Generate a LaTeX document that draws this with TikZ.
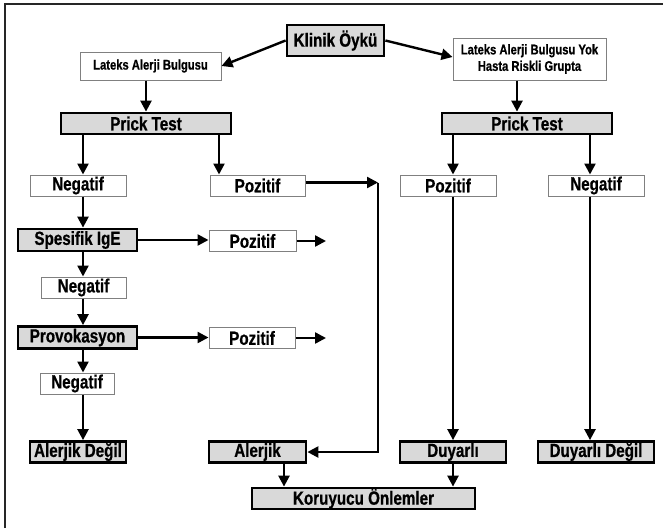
\documentclass[tikz,border=0pt]{standalone}
\usepackage{fontspec}
\setmainfont{Liberation Sans}[FakeStretch=0.8, BoldFeatures={FakeBold=0.7}]
\usetikzlibrary{arrows.meta}
\definecolor{boxgrey}{RGB}{217,217,217}
\definecolor{thingrey}{RGB}{128,128,128}

\begin{document}
\begin{tikzpicture}[x=1pt,y=-1pt,
  greybox/.style={draw, line width=2.8pt, fill=boxgrey, inner sep=0pt,
    font=\bfseries\fontsize{19}{21}\selectfont},
  whitebox/.style={draw=thingrey, line width=1pt, fill=white, inner sep=0pt,
    font=\bfseries\fontsize{19}{21}\selectfont},
  smallbox/.style={whitebox, align=center,
    font=\bfseries\fontsize{14}{16.5}\selectfont},
  arr/.style={line width=2.4pt, -{Triangle[length=11pt,width=11pt]}}]
\useasboundingbox (0,0) rectangle (663,528);
\draw[line width=2pt, black!85]
  (5,528) -- (5,4) -- (663,4);

\node[greybox, minimum width=97pt, minimum height=31pt] (klinik) at (335.5,40.5) {Klinik Öykü};
\node[smallbox, minimum width=141pt, minimum height=28pt] (lateks) at (150.5,66) {Lateks Alerji Bulgusu};
\node[smallbox, minimum width=153pt, minimum height=42pt] (riskli) at (529.5,59) {Lateks Alerji Bulgusu Yok\\Hasta Riskli Grupta};
\node[greybox, minimum width=170pt, minimum height=21pt] (prickL) at (146,123.5) {Prick Test};
\node[greybox, minimum width=170pt, minimum height=21pt] (prickR) at (527,123.5) {Prick Test};
\node[whitebox, minimum width=96pt, minimum height=21pt] (negatifA) at (78,185.5) {Negatif};
\node[whitebox, minimum width=95pt, minimum height=21pt] (pozitifA) at (257.5,185.5) {Pozitif};
\node[whitebox, minimum width=96pt, minimum height=21pt] (pozitifB) at (448,185.5) {Pozitif};
\node[whitebox, minimum width=96pt, minimum height=21pt] (negatifB) at (596,185.5) {Negatif};
\node[greybox, minimum width=119pt, minimum height=22pt] (spesifik) at (77.5,240) {Spesifik IgE};
\node[whitebox, minimum width=87pt, minimum height=21pt] (pozitifC) at (252.5,241) {Pozitif};
\node[whitebox, minimum width=85pt, minimum height=21pt] (negatifC) at (83.5,287.5) {Negatif};
\node[greybox, minimum width=119pt, minimum height=22pt] (provokasyon) at (77.5,337.5) {Provokasyon};
\node[whitebox, minimum width=86pt, minimum height=21pt] (pozitifD) at (252,338) {Pozitif};
\node[whitebox, minimum width=74pt, minimum height=21pt] (negatifD) at (77,383.5) {Negatif};
\node[greybox, minimum width=96pt, minimum height=21pt] (alerjikDegil) at (78,452) {Alerjik Değil};
\node[greybox, minimum width=97pt, minimum height=21pt] (alerjik) at (257.5,452) {Alerjik};
\node[greybox, minimum width=106pt, minimum height=21pt] (duyarli) at (453,452) {Duyarlı};
\node[greybox, minimum width=116pt, minimum height=21pt] (duyarliDegil) at (596,452) {Duyarlı Değil};
\node[greybox, minimum width=223pt, minimum height=21pt] (koruyucu) at (363.5,498.5) {Koruyucu Önlemler};

\coordinate (colA) at (83,0);
\coordinate (colB) at (219,0);
\coordinate (colD) at (453,0);
\coordinate (colE) at (590,0);
\coordinate (colF) at (284,0);
\coordinate (colG) at (517,0);
\coordinate (bus) at (378,182.5);
\coordinate (endC) at (326,241);
\coordinate (endD) at (326,338);

\draw[arr] (klinik.west) -- (lateks.east);
\draw[arr] (klinik.east) -- ([yshift=2pt]riskli.west);
\draw[arr] (lateks.south -| prickL.north) -- (prickL.north);
\draw[arr] (riskli.south -| colG) -- (prickR.north -| colG);
\draw[arr] (prickL.south -| colA) -- (negatifA.north -| colA);
\draw[arr] (prickL.south -| colB) -- (pozitifA.north -| colB);
\draw[arr] (prickR.south -| colD) -- (pozitifB.north -| colD);
\draw[arr] (prickR.south -| colE) -- (negatifB.north -| colE);
\draw[arr] (negatifA.south -| colA) -- (spesifik.north -| colA);
\draw[arr] (spesifik.east) -- (spesifik.east -| pozitifC.west);
\draw[arr] (pozitifC.east) -- (endC);
\draw[arr] (spesifik.south -| colA) -- (negatifC.north -| colA);
\draw[arr] (negatifC.south -| colA) -- (provokasyon.north -| colA);
\draw[arr] (provokasyon.east) -- (provokasyon.east -| pozitifD.west);
\draw[arr] (pozitifD.east) -- (endD);
\draw[arr] (provokasyon.south -| colA) -- (negatifD.north -| colA);
\draw[arr] (negatifD.south -| colA) -- (alerjikDegil.north -| colA);
\draw[arr] ([yshift=3pt]pozitifA.east) -- (bus);
\draw[arr] (bus) -- (bus |- alerjik.east) -- (alerjik.east);
\draw[arr] (pozitifB.south -| colD) -- (duyarli.north -| colD);
\draw[arr] (negatifB.south -| colE) -- (duyarliDegil.north -| colE);
\draw[arr] (alerjik.south -| colF) -- (koruyucu.north -| colF);
\draw[arr] (duyarli.south -| colD) -- (koruyucu.north -| colD);

\end{tikzpicture}
\end{document}
